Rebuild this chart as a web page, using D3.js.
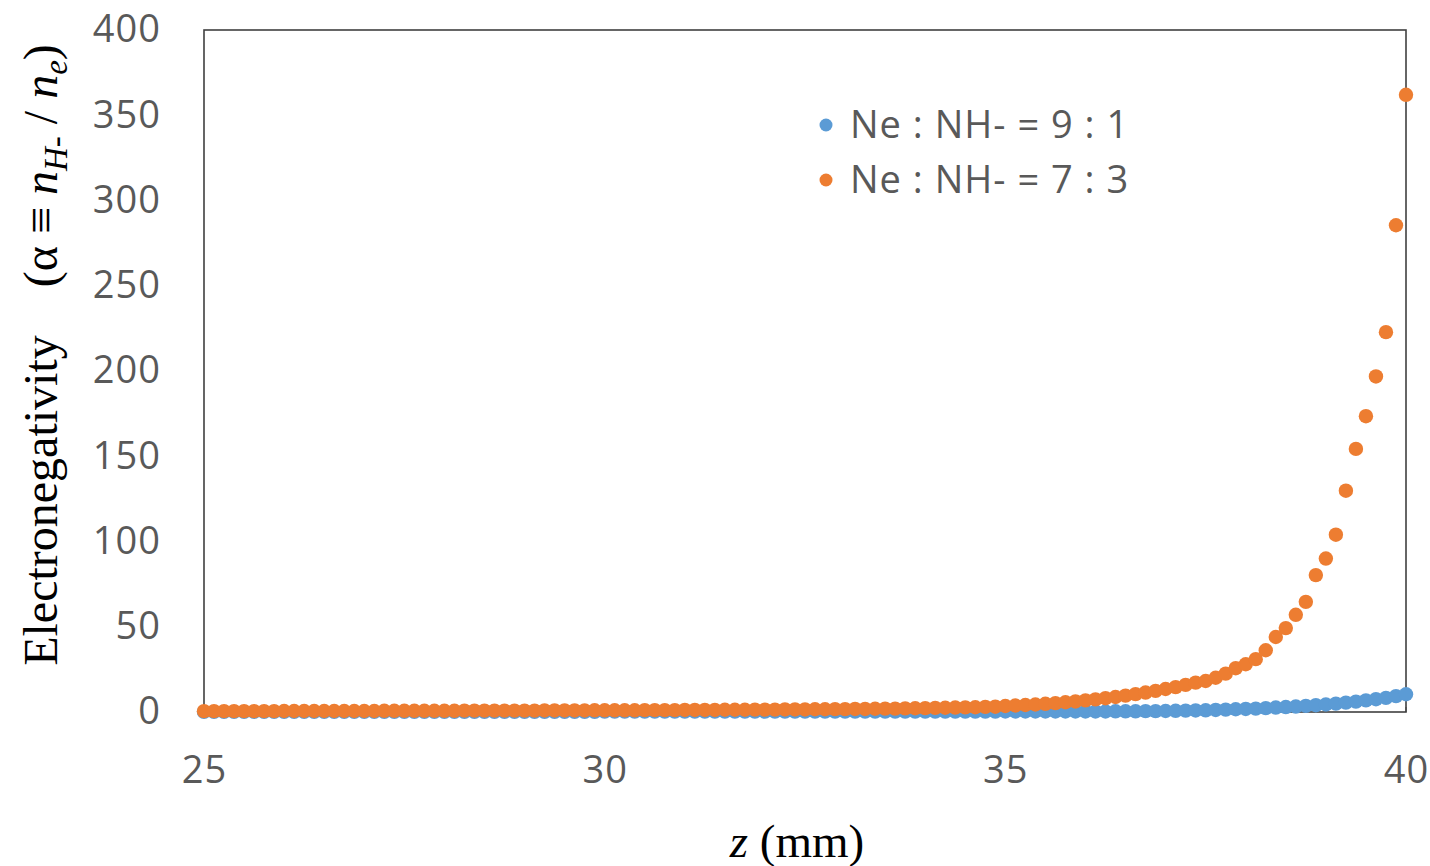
<!DOCTYPE html>
<html>
<head>
<meta charset="utf-8">
<script src="https://cdn.jsdelivr.net/npm/d3@7/dist/d3.min.js"></script>
<style>
  html, body { margin: 0; padding: 0; background: #fff; }
  svg { display: block; }
</style>
</head>
<body>
<svg id="chart" width="1430" height="866"></svg>
<script>
// z positions (mm), step 0.125
const zValues = [
  25.000,25.125,25.250,25.375,25.500,25.625,25.750,25.875,
  26.000,26.125,26.250,26.375,26.500,26.625,26.750,26.875,
  27.000,27.125,27.250,27.375,27.500,27.625,27.750,27.875,
  28.000,28.125,28.250,28.375,28.500,28.625,28.750,28.875,
  29.000,29.125,29.250,29.375,29.500,29.625,29.750,29.875,
  30.000,30.125,30.250,30.375,30.500,30.625,30.750,30.875,
  31.000,31.125,31.250,31.375,31.500,31.625,31.750,31.875,
  32.000,32.125,32.250,32.375,32.500,32.625,32.750,32.875,
  33.000,33.125,33.250,33.375,33.500,33.625,33.750,33.875,
  34.000,34.125,34.250,34.375,34.500,34.625,34.750,34.875,
  35.000,35.125,35.250,35.375,35.500,35.625,35.750,35.875,
  36.000,36.125,36.250,36.375,36.500,36.625,36.750,36.875,
  37.000,37.125,37.250,37.375,37.500,37.625,37.750,37.875,
  38.000,38.125,38.250,38.375,38.500,38.625,38.750,38.875,
  39.000,39.125,39.250,39.375,39.500,39.625,39.750,39.875,
  40.000
];

// Ne : NH- = 9 : 1
const series91 = [
  0.1,0.1,0.1,0.1,0.1,0.1,0.1,0.1,
  0.1,0.1,0.1,0.1,0.1,0.1,0.1,0.1,
  0.1,0.1,0.1,0.1,0.1,0.1,0.1,0.1,
  0.1,0.1,0.1,0.1,0.1,0.1,0.1,0.1,
  0.1,0.1,0.1,0.1,0.1,0.1,0.1,0.1,
  0.2,0.2,0.2,0.2,0.2,0.2,0.2,0.2,
  0.2,0.2,0.2,0.2,0.2,0.2,0.2,0.2,
  0.2,0.2,0.2,0.2,0.2,0.2,0.2,0.2,
  0.2,0.2,0.2,0.2,0.2,0.2,0.2,0.2,
  0.2,0.2,0.2,0.2,0.2,0.2,0.2,0.2,
  0.3,0.3,0.3,0.3,0.3,0.3,0.3,0.3,
  0.3,0.3,0.3,0.4,0.4,0.4,0.5,0.5,
  0.6,0.7,0.8,0.9,1.0,1.2,1.4,1.6,
  1.8,2.0,2.3,2.6,2.9,3.2,3.6,4.0,
  4.4,4.9,5.5,6.1,6.8,7.5,8.3,9.3,
  10.4
];

// Ne : NH- = 7 : 3
const series73 = [
  0.5,0.5,0.5,0.5,0.5,0.5,0.5,0.5,
  0.6,0.6,0.6,0.6,0.6,0.6,0.6,0.6,
  0.6,0.6,0.7,0.7,0.7,0.7,0.7,0.7,
  0.7,0.7,0.8,0.8,0.8,0.8,0.8,0.8,
  0.8,0.8,0.9,0.9,0.9,0.9,0.9,1.0,
  1.0,1.0,1.0,1.0,1.1,1.1,1.1,1.1,
  1.2,1.2,1.2,1.2,1.3,1.3,1.3,1.4,
  1.4,1.4,1.5,1.5,1.5,1.6,1.6,1.7,
  1.7,1.8,1.8,1.9,2.0,2.0,2.1,2.2,
  2.3,2.4,2.5,2.6,2.7,2.8,3.0,3.1,
  3.5,3.8,4.1,4.4,4.8,5.2,5.7,6.2,
  6.8,7.4,8.1,8.8,9.6,10.5,11.4,12.4,
  13.5,14.6,15.9,17.2,18.2,20.1,22.5,25.7,
  28.0,31.0,36.2,44.0,49.2,57.0,64.6,80.3,
  90.0,104.0,129.8,154.3,173.5,196.8,222.8,285.5,
  362.0
];

const xTicks = [25, 30, 35, 40];
const xMinorTicks = [25,26,27,28,29,30,31,32,33,34,35,36,37,38,39,40];
const yTicks = [0, 50, 100, 150, 200, 250, 300, 350, 400];
const seriesNames = ["Ne : NH- = 9 : 1", "Ne : NH- = 7 : 3"];
const seriesColors = ["#5B9BD5", "#ED7D31"];

const svg = d3.select("#chart");
const plotLeft = 204, plotRight = 1406, plotTop = 30, plotBottom = 712;

const x = d3.scaleLinear().domain([25, 40]).range([plotLeft, plotRight]);
const y = d3.scaleLinear().domain([0, 400]).range([plotBottom, plotTop]);

const tickFont = "'Open Sans', 'DejaVu Sans', sans-serif";
const tickColor = "#595959";

// Frame
svg.append("rect")
  .attr("x", plotLeft).attr("y", plotTop)
  .attr("width", plotRight - plotLeft).attr("height", plotBottom - plotTop)
  .attr("fill", "none").attr("stroke", "#404040").attr("stroke-width", 1.6);

// minor ticks on x axis (inside)
svg.append("g").selectAll("line").data(xMinorTicks).join("line")
  .attr("x1", d => x(d)).attr("x2", d => x(d))
  .attr("y1", plotBottom).attr("y2", plotBottom - 5)
  .attr("stroke", "#404040").attr("stroke-width", 1);

// X axis labels via d3 axis
const xAxis = d3.axisBottom(x).tickValues(xTicks).tickSize(0).tickPadding(0).tickFormat(d3.format("d"));
const gx = svg.append("g").attr("transform", `translate(0,${plotBottom})`).call(xAxis);
gx.select(".domain").remove();
gx.selectAll("text")
  .attr("y", 71).attr("dy", 0)
  .attr("font-family", tickFont).attr("font-size", 38).attr("letter-spacing", 1)
  .attr("fill", tickColor);

// Y axis labels via d3 axis
const yAxis = d3.axisLeft(y).tickValues(yTicks).tickSize(0).tickPadding(0).tickFormat(d3.format("d"));
const gy = svg.append("g").attr("transform", `translate(${plotLeft},0)`).call(yAxis);
gy.select(".domain").remove();
gy.selectAll("text")
  .attr("x", -43).attr("dy", "0.31em")
  .attr("font-family", tickFont).attr("font-size", 38).attr("letter-spacing", 1)
  .attr("fill", tickColor);

// Data points
const seriesData = [series91, series73];
seriesData.forEach((vals, si) => {
  svg.append("g").selectAll("circle").data(vals).join("circle")
    .attr("cx", (d, i) => x(zValues[i]))
    .attr("cy", d => y(d))
    .attr("r", 7.2)
    .attr("fill", seriesColors[si]);
});

// Legend
const legend = svg.append("g");
seriesNames.forEach((name, i) => {
  const ly = 125 + i * 55;
  legend.append("circle").attr("cx", 826).attr("cy", ly).attr("r", 6.5).attr("fill", seriesColors[i]);
  legend.append("text").attr("x", 850).attr("y", ly).attr("dy", "0.35em")
    .attr("font-family", tickFont).attr("font-size", 38).attr("letter-spacing", 1)
    .attr("fill", tickColor)
    .text(name);
});

// X axis title
const serif = "'Liberation Serif', 'DejaVu Serif', serif";
const xt = svg.append("text")
  .attr("x", 797).attr("y", 857)
  .attr("text-anchor", "middle")
  .attr("font-family", serif).attr("font-size", 47).attr("fill", "#000");
xt.append("tspan").attr("font-style", "italic").text("z");
xt.append("tspan").text(" (mm)");

// Y axis title
const yt = svg.append("text")
  .attr("transform", "translate(57,355) rotate(-90)")
  .attr("text-anchor", "middle")
  .attr("font-family", serif).attr("font-size", 48).attr("fill", "#000");
yt.append("tspan").text("Electronegativity\u2003(α ≡ ");
yt.append("tspan").attr("font-style", "italic").text("n");
yt.append("tspan").attr("font-style", "italic").attr("font-size", 33).attr("dy", 10).text("H-");
yt.append("tspan").attr("dy", -10).text(" / ");
yt.append("tspan").attr("font-style", "italic").text("n");
yt.append("tspan").attr("font-style", "italic").attr("font-size", 33).attr("dy", 10).text("e");
yt.append("tspan").attr("dy", -10).text(")");
</script>
</body>
</html>
